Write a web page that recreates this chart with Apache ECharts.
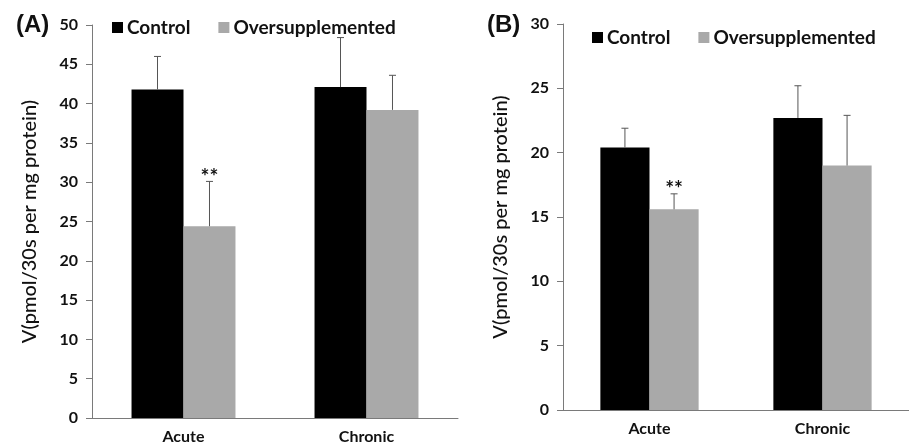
<!DOCTYPE html>
<html>
<head>
<meta charset="utf-8">
<script src="https://cdn.jsdelivr.net/npm/echarts@6/dist/echarts.min.js"></script>
<style>
  html, body { margin: 0; padding: 0; background: #fff; }
  #chart { width: 909px; height: 447px; }
</style>
</head>
<body>
<div id="chart"></div>
<script>
// Uptake rate, V (pmol/30s per mg protein), by treatment duration
const categories = ['Acute', 'Chronic'];
const seriesNames = ['Control', 'Oversupplemented'];

// Panel (A)
const controlA = [41.8, 42.1];
const controlErrA = [4.2, 6.3];
const overA = [24.4, 39.2];
const overErrA = [5.7, 4.4];
const overSigA = ['**', ''];

// Panel (B)
const controlB = [20.4, 22.7];
const controlErrB = [1.5, 2.5];
const overB = [15.6, 19.0];
const overErrB = [1.2, 3.9];
const overSigB = ['**', ''];

const yTicksA = { min: 0, max: 50, interval: 5 };
const yTicksB = { min: 0, max: 30, interval: 5 };

const BLACK = '#000000';
const GREY = '#a9a9a9';
const AXIS = '#7a7a7a';
const TEXT = '#111111';
const FONT = 'Lato';
const BAR_W = 0.284;

// Upward-only error whisker with a small cap, plus optional significance marker
function whisker(offset, sigs) {
  return function (params, api) {
    const cat = api.value(0);
    const mean = api.value(1);
    const err = api.value(2);
    const band = api.size([1, 0])[0];
    const base = api.coord([cat, mean]);
    const top = api.coord([cat, mean + err]);
    const x = base[0] + band * offset;
    const children = [
      { type: 'line', shape: { x1: x, y1: base[1], x2: x, y2: top[1] },
        style: { stroke: '#555', lineWidth: 1 } },
      { type: 'line', shape: { x1: x - 3.5, y1: top[1], x2: x + 3.5, y2: top[1] },
        style: { stroke: '#555', lineWidth: 1 } }
    ];
    const sig = sigs && sigs[params.dataIndex];
    if (sig) {
      children.push({ type: 'text', style: {
        text: sig, x: x, y: top[1] + 6, align: 'center', verticalAlign: 'bottom',
        font: 'bold 21px ' + FONT, fill: TEXT } });
    }
    return { type: 'group', children: children };
  };
}

function errData(means, errs) {
  return means.map((m, i) => [i, m, errs[i]]);
}

function yAxisFor(gridIndex, ticks) {
  return {
    type: 'value', gridIndex: gridIndex,
    min: ticks.min, max: ticks.max, interval: ticks.interval,
    name: 'V(pmol/30s per mg protein)',
    nameLocation: 'middle', nameRotate: 90, nameGap: 52,
    nameTextStyle: { fontFamily: FONT, fontSize: 20, color: TEXT, fontWeight: 500 },
    axisLine: { show: true, lineStyle: { color: AXIS, width: 1 } },
    axisTick: { show: true, length: 6, lineStyle: { color: AXIS } },
    splitLine: { show: false },
    axisLabel: { margin: 14, fontFamily: FONT, fontWeight: 'bold', fontSize: 16, color: TEXT }
  };
}

function xAxisFor(gridIndex) {
  return {
    type: 'category', gridIndex: gridIndex, data: categories,
    axisLine: { lineStyle: { color: AXIS, width: 1 } },
    axisTick: { length: 5, lineStyle: { color: AXIS } },
    axisLabel: { margin: 11, fontFamily: FONT, fontWeight: 'bold', fontSize: 16, color: TEXT }
  };
}

function barSeries(name, data, color, axisIndex) {
  return {
    name: name, type: 'bar', data: data,
    xAxisIndex: axisIndex, yAxisIndex: axisIndex,
    barWidth: (BAR_W * 100) + '%', barGap: '0%',
    itemStyle: { color: color },
    emphasis: { disabled: true }
  };
}

function errSeries(name, means, errs, offset, sigs, axisIndex) {
  return {
    name: name, type: 'custom',
    xAxisIndex: axisIndex, yAxisIndex: axisIndex,
    data: errData(means, errs),
    renderItem: whisker(offset, sigs),
    z: 5, silent: true
  };
}

function legendFor(left, top) {
  return {
    left: left, top: top, data: seriesNames,
    icon: 'rect', itemWidth: 11, itemHeight: 11, itemGap: 28,
    textStyle: { fontFamily: FONT, fontWeight: 'bold', fontSize: 19, color: TEXT, padding: [0, 0, 0, -1] },
    selectedMode: false
  };
}

const chart = echarts.init(document.getElementById('chart'), null, { renderer: 'canvas' });
chart.setOption({
  animation: false,
  backgroundColor: '#ffffff',
  title: [
    { text: '(A)', left: 11, top: 8, textStyle: { fontFamily: 'Liberation Sans', fontWeight: 'bold', fontSize: 24, color: TEXT } },
    { text: '(B)', left: 482, top: 8, textStyle: { fontFamily: 'Liberation Sans', fontWeight: 'bold', fontSize: 24, color: TEXT } }
  ],
  legend: [legendFor(107, 13), legendFor(587, 23)],
  grid: [
    { left: 92, top: 25, width: 366, height: 393 },
    { left: 563, top: 24, width: 356, height: 386 }
  ],
  xAxis: [xAxisFor(0), xAxisFor(1)],
  yAxis: [yAxisFor(0, yTicksA), yAxisFor(1, yTicksB)],
  series: [
    barSeries('Control', controlA, BLACK, 0),
    barSeries('Oversupplemented', overA, GREY, 0),
    errSeries('Control', controlA, controlErrA, -BAR_W / 2, null, 0),
    errSeries('Oversupplemented', overA, overErrA, BAR_W / 2, overSigA, 0),
    barSeries('Control', controlB, BLACK, 1),
    barSeries('Oversupplemented', overB, GREY, 1),
    errSeries('Control', controlB, controlErrB, -BAR_W / 2, null, 1),
    errSeries('Oversupplemented', overB, overErrB, BAR_W / 2, overSigB, 1)
  ]
});
</script>
</body>
</html>
